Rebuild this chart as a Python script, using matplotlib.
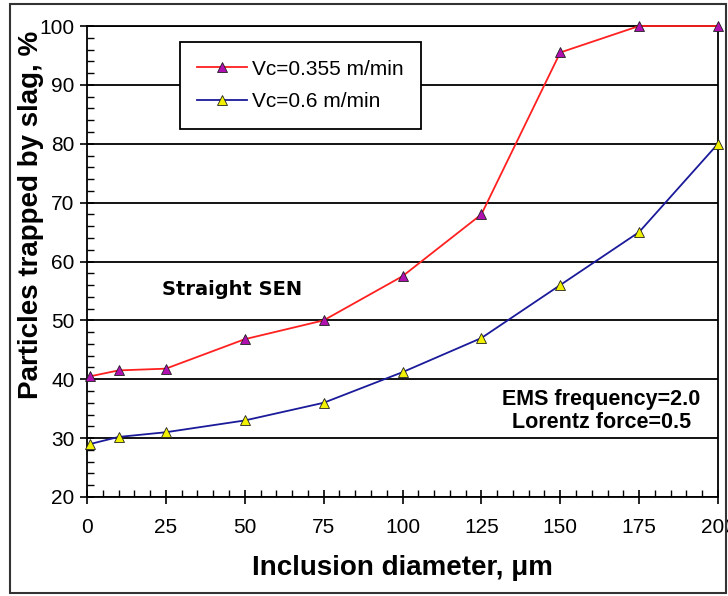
import matplotlib

matplotlib.use("Agg")
import matplotlib.pyplot as plt
from matplotlib.patches import Rectangle
from matplotlib.ticker import MultipleLocator

plt.rcParams["font.family"] = ["Liberation Sans", "DejaVu Sans"]

# inclusion diameter, um
diameter = [1, 10, 25, 50, 75, 100, 125, 150, 175, 200]
# particles trapped by slag, %
trapped_vc0355 = [40.5, 41.5, 41.8, 46.8, 50.0, 57.5, 68.0, 95.5, 100.0, 100.0]
trapped_vc06 = [29.0, 30.2, 31.0, 33.0, 36.0, 41.2, 47.0, 56.0, 65.0, 80.0]

label_vc0355 = "Vc=0.355 m/min"
label_vc06 = "Vc=0.6 m/min"

fig = plt.figure(figsize=(7.28, 5.96), dpi=100)
ax = fig.add_axes([87 / 728, 1 - 497 / 596, (718 - 87) / 728, (497 - 26) / 596])

# outer frame around the whole picture
fig.patches.append(Rectangle((10 / 728, 3 / 596), 716 / 728, 589 / 596,
                             transform=fig.transFigure, fill=False,
                             edgecolor="#333333", linewidth=1.5))

ax.plot(diameter, trapped_vc0355, color="#ff2020", linewidth=1.3, marker="^",
        markersize=7, markerfacecolor="#b010b0", markeredgecolor="#202020",
        markeredgewidth=0.6, label=label_vc0355, zorder=4, clip_on=False)
ax.plot(diameter, trapped_vc06, color="#1a1a9a", linewidth=1.3, marker="^",
        markersize=7, markerfacecolor="#f0f000", markeredgecolor="#202020",
        markeredgewidth=0.6, label=label_vc06, zorder=4, clip_on=False)

ax.set_xlim(0, 200)
ax.set_ylim(20, 100)
ax.xaxis.set_major_locator(MultipleLocator(25))
ax.xaxis.set_minor_locator(MultipleLocator(5))
ax.yaxis.set_major_locator(MultipleLocator(10))
ax.yaxis.set_minor_locator(MultipleLocator(2))
ax.tick_params(which="major", direction="inout", length=10, width=1.2,
               labelsize=15)
ax.tick_params(axis="x", which="major", pad=10)
ax.tick_params(axis="y", which="major", pad=4)
ax.tick_params(which="minor", direction="in", length=5, width=1.0)
ax.grid(axis="y", which="major", color="black", linewidth=1.3)
ax.set_axisbelow(True)
for side in ["left", "bottom", "right", "top"]:
    ax.spines[side].set_linewidth(1.3)

ax.set_xlabel("Inclusion diameter, μm", fontsize=20, fontweight="bold", labelpad=13)
ax.set_ylabel("Particles trapped by slag, %", fontsize=20, fontweight="bold")
ax.yaxis.set_label_coords(-0.068, 0.6)

leg = ax.legend(loc="upper left", bbox_to_anchor=(0.147, 0.966), fontsize=15,
                frameon=True, fancybox=False, edgecolor="black", framealpha=1,
                handlelength=2.4, handletextpad=0.2, borderpad=0.85,
                labelspacing=0.65, borderaxespad=0)
leg.get_frame().set_linewidth(1.3)

ax.text(46, 55.2, "Straight SEN", fontsize=14, fontweight="bold",
        family=["DejaVu Sans"], ha="center", va="center")
ax.text(163, 36.6, "EMS frequency=2.0", fontsize=15.5, fontweight="bold",
        ha="center", va="center")
ax.text(163, 32.7, "Lorentz force=0.5", fontsize=15.5, fontweight="bold",
        ha="center", va="center")

fig.savefig("out.png", dpi=100)
